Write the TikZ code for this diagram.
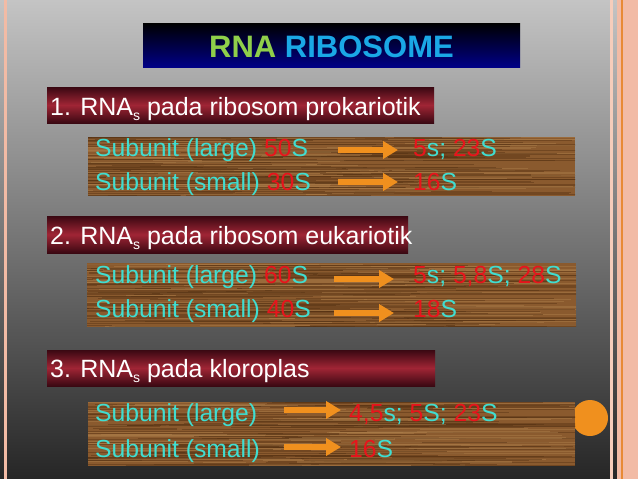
\documentclass[tikz,border=0pt]{standalone}
\usepackage{fontspec}
\setmainfont{Liberation Sans}
\usetikzlibrary{arrows.meta}
\definecolor{bgTop}{HTML}{C4C4C4}
\definecolor{bgBot}{HTML}{262626}
\definecolor{salmon}{HTML}{F2BBA5}
\definecolor{salmonL}{HTML}{F6CDBB}
\definecolor{orLine}{HTML}{E88A35}
\definecolor{navyB}{HTML}{000086}
\definecolor{maroonD}{HTML}{3A0812}
\definecolor{maroonM}{HTML}{A02535}
\definecolor{greenT}{HTML}{8FCF4A}
\definecolor{blueT}{HTML}{1AA8E6}
\definecolor{cyanT}{HTML}{40DDD0}
\definecolor{redT}{HTML}{E8141C}
\definecolor{arrowOr}{HTML}{F0901E}
\definecolor{woodBase}{HTML}{8A5A2E}
\definecolor{woodDark}{HTML}{553113}
\definecolor{woodLight}{HTML}{AE804C}
\newcommand\rd[1]{\textcolor{redT}{#1}}
\newcommand\subs{\raisebox{-5pt}{\fontsize{14}{14}\selectfont s}}
\newcommand\mywood[4]{%
  \fill[woodBase] (#1,#2) rectangle (#3,#4);
  \begin{scope}
    \clip (#1,#2) rectangle (#3,#4);
    \foreach \k in {1,...,240}{
      \pgfmathsetmacro\yy{#2+rnd*(#4-#2)}
      \pgfmathsetmacro\xx{#1+rnd*(#3-#1)-120}
      \pgfmathsetmacro\ll{40+rnd*260}
      \pgfmathsetmacro\ww{0.3+rnd*0.9}
      \pgfmathtruncatemacro\cc{mod(\k,3)}
      \ifnum\cc=0 \def\colr{woodLight}\else\def\colr{woodDark}\fi
      \draw[\colr, line width=\ww pt, opacity=0.45] (\xx,\yy) -- ++(\ll,0);
    }
  \end{scope}}
\tikzset{
  rowtext/.style={anchor=base west, inner sep=0pt, text=cyanT, font=\fontsize{24.7}{28}\selectfont},
  headtext/.style={anchor=base west, inner sep=0pt, text=white, font=\fontsize{25}{28}\selectfont},
  orarrow/.style={draw=arrowOr, line width=6pt, -{Triangle[length=15pt,width=17pt]}},
  headbox/.style={top color=maroonD, bottom color=maroonD, middle color=maroonM},
}
\begin{document}
\begin{tikzpicture}[x=1pt,y=-1pt]
\pgfmathsetseed{11}
\useasboundingbox (0,0) rectangle (638,479);
% background
\shade[top color=bgTop, bottom color=bgBot] (0,0) rectangle (617,479);
\fill[salmon] (3.5,0) rectangle (7,479);
\fill[salmonL] (610,0) rectangle (612.5,479);
\fill[salmon] (617,0) rectangle (638,479);
\draw[orLine, line width=1.2pt] (622,0) -- (622,479);
% title
\shade[top color=black, bottom color=navyB] (143,23) rectangle (520,67);
\node (title) [anchor=base, inner sep=0pt, font=\fontsize{31}{34}\selectfont\bfseries] at (331.5,57)
  {\textcolor{greenT}{RNA} \textcolor{blueT}{RIBOSOME}};
% section 1
\shade[headbox] (47,87) rectangle (434,123);
\node (h1) [headtext] at (50,115) {1. RNA\subs{} pada ribosom prokariotik};
\mywood{88}{137}{575}{196}
\node (l11) [rowtext] at (95,156) {Subunit (large) \rd{50}S};
\node (l12) [rowtext] at (95,190) {Subunit (small) \rd{30}S};
\node (r11) [rowtext] at (413,156) {\rd{5}s; \rd{23}S};
\node (r12) [rowtext] at (413,190) {\rd{16}S};
\coordinate (a11s) at (338,150); \coordinate (a11e) at (398,150);
\coordinate (a12s) at (338,182); \coordinate (a12e) at (398,182);
\draw[orarrow] (a11s) -- (a11e);
\draw[orarrow] (a12s) -- (a12e);
% section 2
\shade[headbox] (47,216) rectangle (408,253);
\node (h2) [headtext] at (50,244) {2. RNA\subs{} pada ribosom eukariotik};
\mywood{87}{263}{576}{327}
\node (l21) [rowtext] at (95,283) {Subunit (large) \rd{60}S};
\node (l22) [rowtext] at (95,317) {Subunit (small) \rd{40}S};
\node (r21) [rowtext] at (413,283) {\rd{5}s; \rd{5,8}S; \rd{28}S};
\node (r22) [rowtext] at (413,317) {\rd{18}S};
\coordinate (a21s) at (334,279); \coordinate (a21e) at (394,279);
\coordinate (a22s) at (334,313); \coordinate (a22e) at (394,313);
\draw[orarrow] (a21s) -- (a21e);
\draw[orarrow] (a22s) -- (a22e);
% section 3
\shade[headbox] (47,350) rectangle (435,386);
\node (h3) [headtext] at (50,377) {3. RNA\subs{} pada kloroplas};
\fill[arrowOr] (590,418) circle (18);
\mywood{88}{402}{575}{466}
\node (l31) [rowtext] at (95,421) {Subunit (large)};
\node (l32) [rowtext] at (95,457) {Subunit (small)};
\node (r31) [rowtext] at (349,421) {\rd{4,5}s; \rd{5}S; \rd{23}S};
\node (r32) [rowtext] at (349,457) {\rd{16}S};
\coordinate (a31s) at (284,410); \coordinate (a31e) at (341,410);
\coordinate (a32s) at (284,447); \coordinate (a32e) at (341,447);
\draw[orarrow] (a31s) -- (a31e);
\draw[orarrow] (a32s) -- (a32e);
\end{tikzpicture}
\end{document}
